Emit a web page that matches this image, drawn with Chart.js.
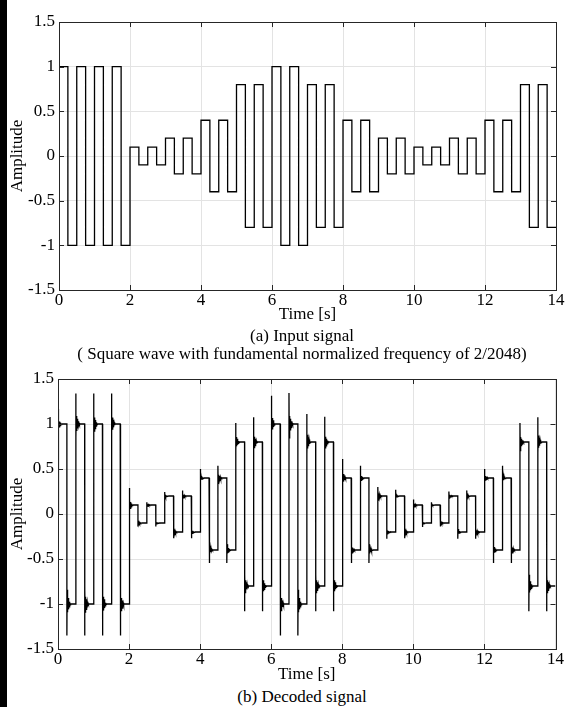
<!DOCTYPE html>
<html>
<head>
<meta charset="utf-8">
<title>Input and decoded signal</title>
<script src="https://cdn.jsdelivr.net/npm/chart.js@4.4.0/dist/chart.umd.min.js"></script>
<style>
    html, body { margin: 0; padding: 0; background: #fff; }
    body { width: 567px; height: 707px; position: relative; overflow: hidden; font-family: 'Liberation Serif', 'Times New Roman', serif; }
    .bar { position: absolute; left: 0; top: 0; width: 7px; height: 707px; background: #000; z-index: 5; }
    canvas { position: absolute; left: 0; }
    #inputChart { top: 0; }
    #decodedChart { top: 357px; }
    .caption { position: absolute; left: -48px; width: 700px; text-align: center; font-size: 17px; line-height: 20px; color: #000; white-space: nowrap; z-index: 4; }
</style>
</head>
<body>
<div class="bar"></div>
<canvas id="inputChart" width="567" height="330"></canvas>
<canvas id="decodedChart" width="567" height="330"></canvas>
<div class="caption" style="top:326px">(a) Input signal</div>
<div class="caption" style="top:344px">( Square wave with fundamental normalized frequency of 2/2048)</div>
<div class="caption" style="top:687px">(b) Decoded signal</div>

<script>
// Amplitude of the square wave in each 1 s block (0-1, 1-2, ... 13-14)
const blockLevels = [1, 1, 0.1, 0.2, 0.4, 0.8, 1, 0.8, 0.4, 0.2, 0.1, 0.2, 0.4, 0.8];
const halfPeriod = 0.25; // s, high then low

// Decoded signal: peak value right after each rising edge (t = 0, 0.5, 1, ...)
const risePeaks = [1.17, 1.34, 1.34, 1.34, 0.29, 0.13, 0.245, 0.26, 0.50, 0.535, 1.01, 1.075, 1.315, 1.345,
                   1.11, 1.08, 0.61, 0.535, 0.30, 0.27, 0.16, 0.13, 0.25, 0.26, 0.50, 0.535, 1.01, 1.075];
// ... and right after each falling edge (t = 0.25, 0.75, 1.25, ...)
const fallPeaks = [-1.35, -1.35, -1.35, -1.35, -0.14, -0.14, -0.27, -0.27, -0.545, -0.545, -1.08, -1.08, -1.35, -1.35,
                   -1.08, -1.08, -0.545, -0.545, -0.275, -0.27, -0.145, -0.14, -0.275, -0.275, -0.545, -0.545, -1.08, -1.08];
// ringing after an edge, as a fraction of the overshoot
const ringShape = [1, -0.45, 0.26, -0.23, 0.21, -0.19, 0.17, -0.15, 0.13, -0.11, 0.09, -0.07, 0.055, -0.04, 0.03, -0.02, 0.01, 0];
const ringStep = 0.0065; // s

const xTicks = [0, 2, 4, 6, 8, 10, 12, 14];
const xTickLabels = ['0', '2', '4', '6', '8', '10', '12', '14'];
const yTicks = [-1.5, -1, -0.5, 0, 0.5, 1, 1.5];
const yTickLabels = ['-1.5', '-1', '-0.5', '0', '0.5', '1', '1.5'];

const serif = "'Liberation Serif', 'Times New Roman', serif";
const gridColor = '#e3e3e3';
const axisColor = '#262626';
const tickLen = 5;

// square wave as step points
const inputPoints = [];
const decodedPoints = [];
let prev = 0;
for (let k = 0; k < blockLevels.length / halfPeriod; k++) {
    const t0 = k * halfPeriod;
    const level = blockLevels[Math.floor(t0)] * (k % 2 === 0 ? 1 : -1);
    inputPoints.push({ x: t0, y: level }, { x: t0 + halfPeriod, y: level });

    const peak = k % 2 === 0 ? risePeaks[k / 2] : fallPeaks[(k - 1) / 2];
    decodedPoints.push({ x: t0, y: prev });
    ringShape.forEach((r, i) => {
        decodedPoints.push({ x: t0 + i * ringStep, y: level + (peak - level) * r });
    });
    prev = level;
}
decodedPoints.push({ x: 14, y: prev });

// MATLAB style box with inward ticks
const boxPlugin = {
    id: 'matlabBox',
    afterDraw(chart) {
        const { ctx, chartArea: a, scales } = chart;
        const px = v => Math.round(v) + 0.5;
        ctx.save();
        ctx.strokeStyle = axisColor;
        ctx.lineWidth = 1;
        ctx.strokeRect(px(a.left), px(a.top), Math.round(a.right) - Math.round(a.left), Math.round(a.bottom) - Math.round(a.top));
        ctx.beginPath();
        xTicks.slice(1, -1).forEach(v => {
            const x = px(scales.x.getPixelForValue(v));
            ctx.moveTo(x, a.bottom); ctx.lineTo(x, a.bottom - tickLen);
            ctx.moveTo(x, a.top); ctx.lineTo(x, a.top + tickLen);
        });
        yTicks.slice(1, -1).forEach(v => {
            const y = px(scales.y.getPixelForValue(v));
            ctx.moveTo(a.left, y); ctx.lineTo(a.left + tickLen, y);
            ctx.moveTo(a.right, y); ctx.lineTo(a.right - tickLen, y);
        });
        ctx.stroke();
        ctx.restore();
    }
};

function makeOptions(box) {
    return {
        responsive: false,
        animation: false,
        layout: { padding: { left: 0, top: box.top, right: box.right, bottom: 0 } },
        plugins: { legend: { display: false }, tooltip: { enabled: false } },
        elements: { point: { radius: 0 }, line: { tension: 0 } },
        scales: {
            x: {
                type: 'linear',
                min: 0,
                max: 14,
                afterFit: s => { s.height = box.xHeight; },
                ticks: {
                    stepSize: 2,
                    padding: 0,
                    maxRotation: 0,
                    autoSkip: false,
                    color: '#000',
                    font: { family: serif, size: 17 },
                    callback: v => xTickLabels[xTicks.indexOf(v)]
                },
                grid: { color: gridColor, drawTicks: false },
                border: { display: true, color: axisColor },
                title: {
                    display: true,
                    text: 'Time [s]',
                    color: '#000',
                    font: { family: serif, size: 17 },
                    padding: { top: 0, bottom: box.titlePad }
                }
            },
            y: {
                min: -1.5,
                max: 1.5,
                afterFit: s => { s.width = box.left; },
                ticks: {
                    stepSize: 0.5,
                    padding: 4,
                    color: '#000',
                    font: { family: serif, size: 17 },
                    callback: v => yTickLabels[yTicks.indexOf(v)]
                },
                grid: { color: gridColor, drawTicks: false },
                border: { display: true, color: axisColor },
                title: {
                    display: true,
                    text: 'Amplitude',
                    color: '#000',
                    font: { family: serif, size: 17 },
                    padding: { top: 7, bottom: 0 }
                }
            }
        }
    };
}

// (a) Input signal
const inputChart = new Chart(document.getElementById('inputChart'), {
    type: 'line',
    data: {
        datasets: [{
            label: 'Input signal',
            data: inputPoints,
            borderColor: '#000',
            borderWidth: 1.3,
            fill: false
        }]
    },
    options: makeOptions({ top: 22, right: 11, left: 59, xHeight: 40, titlePad: 5.5 }),
    plugins: [boxPlugin]
});

// (b) Decoded signal
const decodedChart = new Chart(document.getElementById('decodedChart'), {
    type: 'line',
    data: {
        datasets: [{
            label: 'Decoded signal',
            data: decodedPoints,
            borderColor: '#000',
            borderWidth: 1.3,
            fill: false
        }]
    },
    options: makeOptions({ top: 22, right: 11.5, left: 58, xHeight: 38, titlePad: 2.5 }),
    plugins: [boxPlugin]
});
</script>
</body>
</html>
